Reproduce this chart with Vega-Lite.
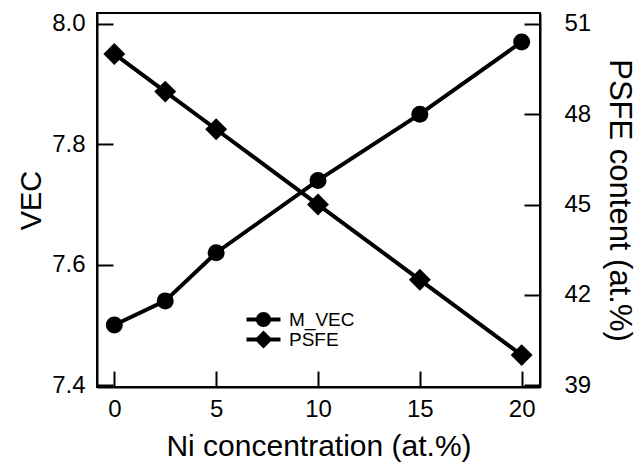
{
  "$schema": "https://vega.github.io/schema/vega-lite/v6.json",
  "width": 443,
  "height": 374,
  "autosize": "none",
  "padding": {"left": 97, "top": 13, "right": 104, "bottom": 84},
  "background": "white",
  "config": {
    "font": "Liberation Sans",
    "view": {"stroke": "black", "strokeWidth": 2},
    "axis": {
      "domainColor": "black", "domainWidth": 2, "tickColor": "black", "tickWidth": 2,
      "tickSize": -16, "grid": false, "labelFontSize": 24, "labelColor": "black",
      "titleFontSize": 29, "titleFontWeight": "normal", "titleColor": "black"
    }
  },
  "data": {"values": [
    {"ni": 0, "vec": 7.5, "psfe": 50},
    {"ni": 2.5, "vec": 7.54, "psfe": 48.75},
    {"ni": 5, "vec": 7.62, "psfe": 47.5},
    {"ni": 10, "vec": 7.74, "psfe": 45},
    {"ni": 15, "vec": 7.85, "psfe": 42.5},
    {"ni": 20, "vec": 7.97, "psfe": 40}
  ]},
  "encoding": {
    "x": {"field": "ni", "type": "quantitative", "scale": {"domain": [-0.85, 20.9], "nice": false, "zero": false},
      "axis": {"values": [0, 5, 10, 15, 20], "title": "Ni concentration (at.%)", "titleFontSize": 30, "labelPadding": 26, "titlePadding": 10}}
  },
  "layer": [
    {
      "encoding": {
        "y": {"field": "vec", "type": "quantitative", "scale": {"domain": [7.397, 8.018], "nice": false, "zero": false},
          "axis": {"values": [7.4, 7.6, 7.8, 8.0], "format": ".1f", "title": "VEC", "orient": "left", "labelPadding": 28, "titlePadding": 5}}
      },
      "layer": [
        {"mark": {"type": "line", "color": "black", "strokeWidth": 4}},
        {"mark": {"type": "point", "filled": true, "color": "black", "opacity": 1, "size": 289, "shape": "circle"}},
        {"data": {"values": []},
         "mark": {"type": "point", "filled": true, "color": "black", "opacity": 1, "size": 100},
         "encoding": {"shape": {"datum": "M_VEC", "type": "nominal",
           "scale": {"domain": ["M_VEC", "PSFE"], "range": [
             "M-3.4,-0.4H-1.3V0.4H-3.4ZM1.3,-0.4H3.4V0.4H1.3ZM-1.5,0A1.5,1.5,0,1,1,1.5,0A1.5,1.5,0,1,1,-1.5,0Z",
             "M-3.4,-0.4H-1.3V0.4H-3.4ZM1.3,-0.4H3.4V0.4H1.3ZM0,-1.8L1.8,0L0,1.8L-1.8,0Z"]},
           "legend": {
             "orient": "none", "legendX": 157, "legendY": 297, "title": null, "padding": 0,
             "symbolSize": 100, "labelFontSize": 19, "labelColor": "black", "labelOffset": 16, "rowPadding": -3,
             "symbolFillColor": "black", "symbolStrokeColor": "black", "symbolStrokeWidth": 0, "symbolOpacity": 1
           }}}}
      ]
    },
    {
      "encoding": {
        "y": {"field": "psfe", "type": "quantitative", "scale": {"domain": [38.94, 51.36], "nice": false, "zero": false},
          "axis": {"values": [39, 42, 45, 48, 51], "title": "PSFE content (at.%)", "titleFontSize": 31, "orient": "right", "labelPadding": 40, "titlePadding": 12}}
      },
      "layer": [
        {"mark": {"type": "line", "color": "black", "strokeWidth": 4}},
        {"mark": {"type": "point", "filled": true, "color": "black", "opacity": 1, "size": 480, "shape": "diamond"}}
      ]
    }
  ],
  "resolve": {"scale": {"y": "independent"}}
}
